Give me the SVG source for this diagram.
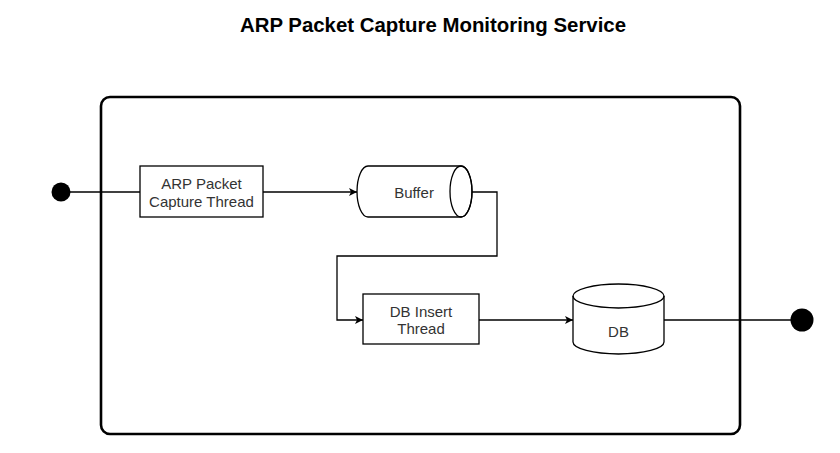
<svg xmlns="http://www.w3.org/2000/svg" width="840" height="453" viewBox="0 0 840 453">
<defs>
<style>
.lbl{font-family:"Liberation Sans",Arial,sans-serif;font-size:15px;fill:#333;text-anchor:middle}
.box{fill:#fff;stroke:#000;stroke-width:1.3}
.edge{fill:none;stroke:#000;stroke-width:1.3}
</style>
<marker id="arr" markerWidth="10" markerHeight="10" refX="9" refY="5" orient="auto" markerUnits="userSpaceOnUse">
<path d="M1,1 L9,5 L1,9 L3,5 Z" fill="#000"/>
</marker>
</defs>
<rect width="840" height="453" fill="#fff"/>
<text x="433" y="32" font-family="'Liberation Sans',Arial,sans-serif" font-size="20" font-weight="bold" text-anchor="middle" fill="#000" textLength="386" lengthAdjust="spacingAndGlyphs">ARP Packet Capture Monitoring Service</text>
<g id="container">
<rect x="101" y="97" width="639" height="337" rx="9" fill="none" stroke="#000" stroke-width="2.6"/>
</g>
<g id="connectors">
<line class="edge" x1="61" y1="192" x2="140" y2="192"/>
<line class="edge" x1="263" y1="192" x2="357" y2="192" marker-end="url(#arr)"/>
<path class="edge" d="M472,192 H497 V256 H337 V320 H363" marker-end="url(#arr)"/>
<line class="edge" x1="479" y1="320" x2="573" y2="320" marker-end="url(#arr)"/>
<line class="edge" x1="664" y1="320" x2="802" y2="320"/>
</g>
<g id="start">
<circle cx="61" cy="192" r="9.5" fill="#000"/>
</g>
<g id="arp-capture">
<rect class="box" x="140" y="166" width="123" height="51"/>
<text class="lbl" x="201.5" y="189">ARP Packet</text>
<text class="lbl" x="201.5" y="207">Capture Thread</text>
</g>
<g id="buffer">
<path class="box" d="M368,166 H461 A11,25.5 0 0 1 461,217 H368 A11,25.5 0 0 1 368,166 Z"/>
<ellipse cx="461" cy="191.5" rx="11" ry="25.5" fill="none" stroke="#000" stroke-width="1.3"/>
<text class="lbl" x="414" y="198">Buffer</text>
</g>
<g id="db-insert">
<rect class="box" x="363" y="294" width="116" height="50"/>
<text class="lbl" x="421" y="317">DB Insert</text>
<text class="lbl" x="421" y="334">Thread</text>
</g>
<g id="db">
<path class="box" d="M573,296 A45.5,12 0 0 1 664,296 V342 A45.5,12 0 0 1 573,342 Z"/>
<path d="M573,296 A45.5,12 0 0 0 664,296" fill="none" stroke="#000" stroke-width="1.3"/>
<text class="lbl" x="618.5" y="337">DB</text>
</g>
<g id="end">
<circle cx="802" cy="320" r="11.5" fill="#000"/>
</g>
</svg>
